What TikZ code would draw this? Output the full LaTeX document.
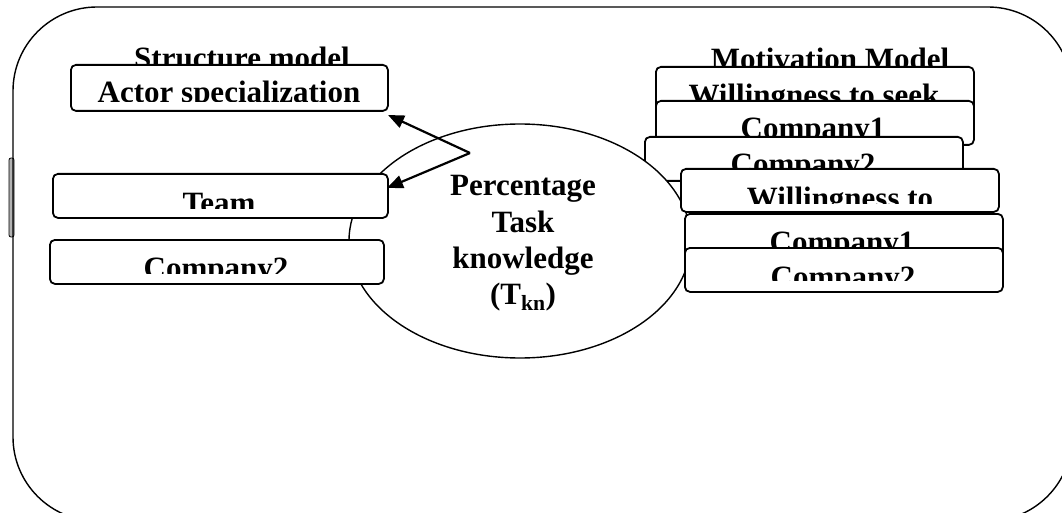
\documentclass[tikz,border=0pt]{standalone}
\usepackage{fontspec}
\setmainfont{Liberation Serif}
\usetikzlibrary{arrows.meta,shapes.geometric}
\newcommand{\clippedbox}[9]{%
  \node[box, minimum width=#4, minimum height=#5] (#1) at (#2,#3) {};
  \begin{scope}
    \clip (#1.north west) rectangle ([yshift=#8]#1.south east);
    \node[lbl] (#1txt) at (#6,#7) {#9};
  \end{scope}}
\begin{document}
\begin{tikzpicture}[x=1pt,y=-1pt,
  box/.style={draw, fill=white, rounded corners=5pt, line width=1.8pt, inner sep=0pt, anchor=north west},
  lbl/.style={font=\fontsize{31}{36}\selectfont\bfseries, anchor=base, inner sep=0pt},
  frame/.style={line width=1.4pt, rounded corners=84pt},
  conn/.style={line width=2.2pt, -{Triangle[length=16pt,width=13pt]}}]
\useasboundingbox (0,0) rectangle (1062,513);
\clip (0,0) rectangle (1062,513);
% side tab and outer frame
\draw[fill=gray!60, line width=0.8pt, rounded corners=2pt] (9,158) rectangle (14,237);
\draw[frame] (13,7) rectangle (1072,521);
% titles
\node[lbl] (structtitle) at (242,69) {Structure model};
\node[lbl] (motivtitle) at (830,70) {Motivation Model};
% left top box
\clippedbox{actor}{70}{64}{317pt}{46pt}{229}{103}{10pt}{Actor specialization}
% right stack (under the ellipse)
\clippedbox{wa}{655}{66}{318pt}{44pt}{814}{106}{10pt}{Willingness to seek}
\clippedbox{ca}{655}{100}{318pt}{44pt}{813}{139}{10pt}{Company1}
\clippedbox{cb}{644}{136}{318pt}{44pt}{803}{175}{10pt}{Company2}
% ellipse
\node[draw, fill=white, ellipse, line width=1.4pt, minimum width=342pt, minimum height=234pt, inner sep=0pt] (tkn) at (520,241) {};
% left boxes over the ellipse
\clippedbox{team}{52}{173}{335pt}{44pt}{219}{213}{10pt}{Team}
\clippedbox{compl}{49}{239}{334pt}{44pt}{216}{278}{11pt}{Company2}
% right stack (over the ellipse)
\clippedbox{wb}{680}{168}{318pt}{43pt}{840}{208}{9pt}{Willingness to}
\clippedbox{cc}{684}{213}{318pt}{44pt}{842}{252}{10pt}{Company1}
\clippedbox{cd}{684}{247}{318pt}{44pt}{843}{287}{12pt}{Company2}
% ellipse text
\node[lbl] (l1) at (523,196) {Percentage};
\node[lbl] (l2) at (523,232) {Task};
\node[lbl] (l3) at (523,268) {knowledge};
\node[lbl] (l4) at (523,304) {(T\textsubscript{kn})};
% arrows
\coordinate (fork) at (470,153);
\coordinate (tipA) at (388,115);
\coordinate (tipB) at (387,188);
\draw[conn] (fork) -- (tipA);
\draw[conn] (fork) -- (tipB);
\end{tikzpicture}
\end{document}
